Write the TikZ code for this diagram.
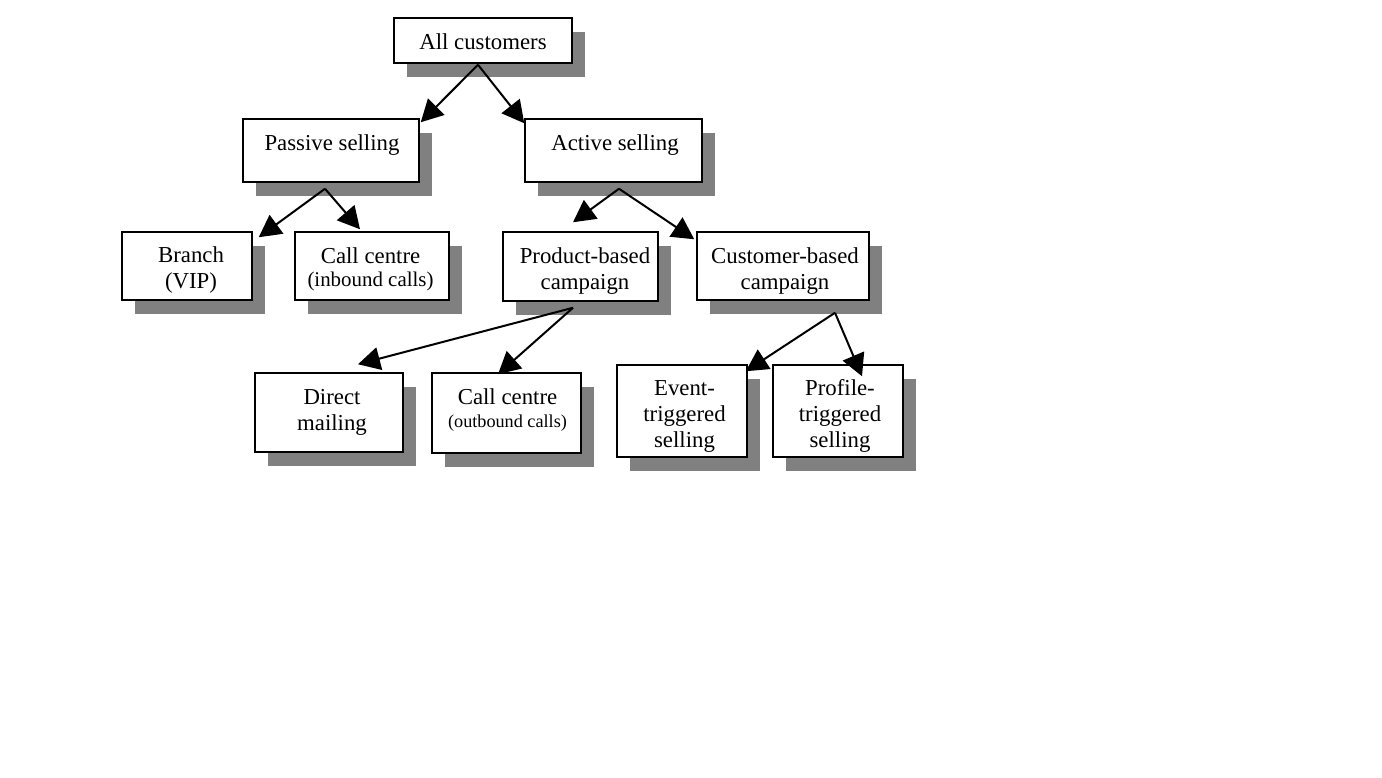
\documentclass[tikz,border=0pt]{standalone}
\usepackage{fontspec}
\setmainfont{Liberation Serif}
\usetikzlibrary{shadows,calc,arrows.meta}
\begin{document}
\begin{tikzpicture}[x=0.5pt,y=-0.5pt,
  box/.style={draw=black, line width=0.75pt, fill=white, inner sep=0pt,
    drop shadow={shadow xshift=6.5pt, shadow yshift=-7pt, opacity=1, fill=black!50}},
  txt/.style={inner sep=0pt, align=center, font=\fontsize{11.4}{13}\selectfont},
  arr/.style={line width=1pt, -{Triangle[length=11pt,width=11.5pt]}}]
\useasboundingbox (0,0) rectangle (1382,777);
\fill[white] (0,0) rectangle (1382,777);
% boxes
\node[box, minimum width=89pt, minimum height=22.5pt] (all) at (483,40.5) {};
\node[box, minimum width=88pt, minimum height=31.5pt] (passive) at (331,150.5) {};
\node[box, minimum width=88.5pt, minimum height=31.5pt] (active) at (613.5,150.5) {};
\node[box, minimum width=65pt, minimum height=34pt] (branch) at (187,266) {};
\node[box, minimum width=77pt, minimum height=34pt] (inbound) at (372,266) {};
\node[box, minimum width=77.5pt, minimum height=34.5pt] (product) at (580.5,266.5) {};
\node[box, minimum width=86pt, minimum height=34pt] (customer) at (783,266) {};
\node[box, minimum width=74pt, minimum height=39.5pt] (direct) at (329,412.5) {};
\node[box, minimum width=74.5pt, minimum height=40pt] (outbound) at (506.5,413) {};
\node[box, minimum width=65pt, minimum height=46pt] (event) at (682,411) {};
\node[box, minimum width=65pt, minimum height=46pt] (profile) at (838,411) {};
% texts
\node[txt] (allT) at ($(all)+(0,1)$) {All customers};
\node[txt] (passiveT) at ($(passive)+(1,-5.5)$) {Passive selling};
\node[txt] (activeT) at ($(active)+(1.5,-5.5)$) {Active selling};
\node[txt] (branchT) at ($(branch)+(4,4.5)$) {Branch\\(VIP)};
\node[txt] (inboundT) at ($(inbound)+(-1.5,3)$) {Call centre\\[-1.5pt]{\fontsize{10.45}{11.5}\selectfont (inbound calls)}};
\node[txt] (productT) at ($(product)+(4.5,4.5)$) {Product-based\\campaign};
\node[txt] (customerT) at ($(customer)+(2,5)$) {Customer-based\\campaign};
\node[txt] (directT) at ($(direct)+(3,0)$) {Direct\\mailing};
\node[txt] (outboundT) at ($(outbound)+(1,-3)$) {Call centre\\[-1.5pt]{\fontsize{9.1}{11.5}\selectfont (outbound calls)}};
\node[txt] (eventT) at ($(event)+(2.5,5)$) {Event-\\triggered\\selling};
\node[txt] (profileT) at ($(profile)+(2,4.5)$) {Profile-\\triggered\\selling};
% connectors
\draw[arr] ($(all.south)+(-5,1)$) -- ($(passive.north east)+(1,4)$);
\draw[arr] ($(all.south)+(-5,1)$) -- ($(active.north west)+(0,5)$);
\draw[arr] ($(passive.south)+(-6,6)$) -- ($(branch.north east)+(6,6)$);
\draw[arr] ($(passive.south)+(-6,6)$) -- ($(inbound.north)+(-12,-2)$);
\draw[arr] ($(active.south)+(5.5,6)$) -- ($(product.north)+(-7.5,-9)$);
\draw[arr] ($(active.south)+(5.5,6)$) -- ($(customer.north west)+(-2,8)$);
\draw[arr] ($(product.south)+(-7.5,6)$) -- ($(direct.north)+(29,-8)$);
\draw[arr] ($(product.south)+(-7.5,6)$) -- ($(outbound.north)+(-8.5,2)$);
\draw[arr] ($(customer.south)+(52,12)$) -- ($(event.north east)+(-2,7)$);
\draw[arr] ($(customer.south)+(52,12)$) -- ($(profile.north)+(24,12)$);
\end{tikzpicture}
\end{document}
